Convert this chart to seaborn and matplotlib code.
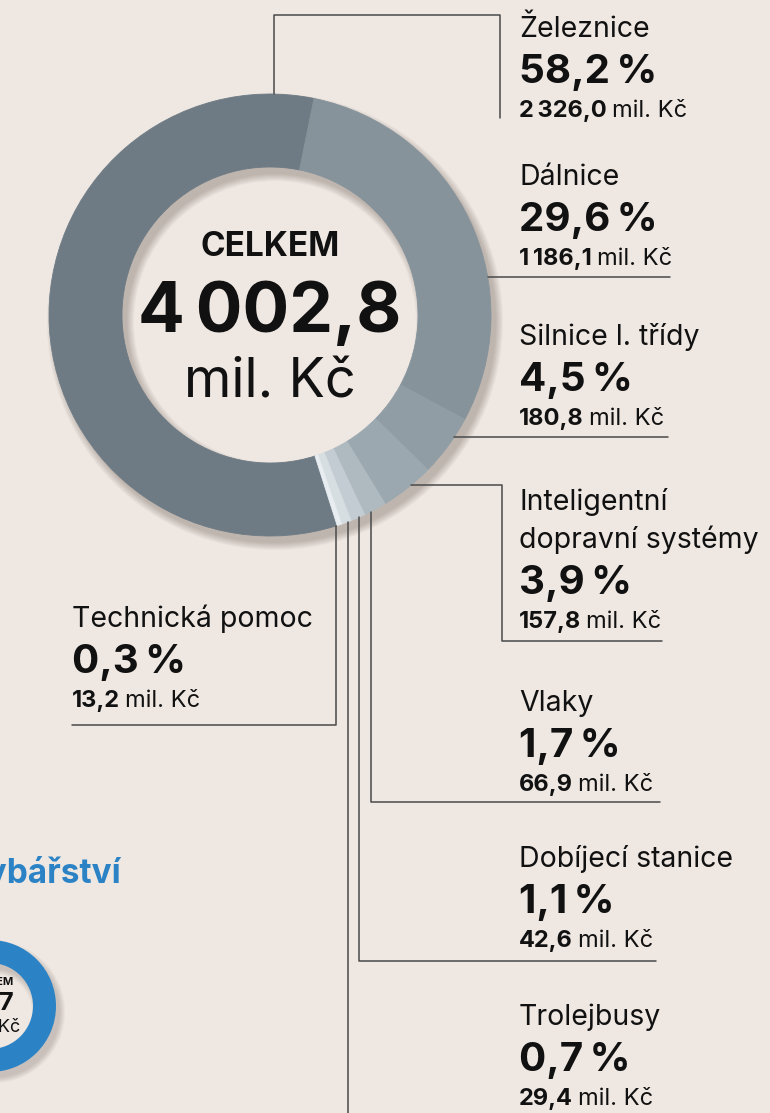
import numpy as np
import matplotlib
matplotlib.use("Agg")
import matplotlib.pyplot as plt
import seaborn as sns
from matplotlib.patches import Wedge

# data
kategorie = ["Železnice", "Dálnice", "Silnice l. třídy", "Inteligentní\ndopravní systémy",
             "Vlaky", "Dobíjecí stanice", "Trolejbusy", "Technická pomoc"]
podil = [58.2, 29.6, 4.5, 3.9, 1.7, 1.1, 0.7, 0.3]
castka = [2326.0, 1186.1, 180.8, 157.8, 66.9, 42.6, 29.4, 13.2]
celkem = 4002.8
barvy = ["#6e7b84", "#86939b", "#909da4", "#9ba8af", "#aeb9c0", "#c3ccd2", "#d6dee2", "#e7edf0"]

# druhy (oriznuty) graf vlevo dole
druhy_nazev = "Rybářství"
druhy_hodnoty = [1.0]
modra = "#2b83c6"

sns.set_theme(style="white")
plt.rcParams["font.family"] = ["Inter", "DejaVu Sans"]

POZADI = "#eee7e2"
CARA = "#4a4a4a"
W, H = 770, 1113
cx, cy, R, tl = 270, 315, 221, 73


def cz(v):
    s = f"{v:,.1f}".replace(",", "\u2009").replace(".", ",")
    return s


fig = plt.figure(figsize=(W / 100, H / 100), dpi=100, facecolor=POZADI)
ax = fig.add_axes([0, 0, 1, 1])
ax.set_facecolor(POZADI)

# stin pod prstencem
for k in range(8):
    ax.add_patch(Wedge((cx + 5, cy + 7), R + k, 0, 360, width=tl + 2 * k,
                       facecolor="#4f3f35", edgecolor="none", alpha=0.04, zorder=1))

wedges, _ = ax.pie(castka, colors=barvy, radius=R, center=(cx, cy),
                   counterclock=True, startangle=72.3,
                   wedgeprops=dict(width=tl, linewidth=0.6))
for w, c in zip(wedges, barvy):
    w.set_edgecolor(c)
    w.set_zorder(2)

ax.set_xlim(0, W)
ax.set_ylim(H, 0)
ax.set_aspect("equal")
ax.axis("off")

# stred
ax.text(cx, 256, "CELKEM", ha="center", va="baseline", fontsize=24, fontweight="bold", color="#111")
ax.text(cx, 332, cz(celkem), ha="center", va="baseline", fontsize=50, fontweight="bold", color="#111")
ax.text(cx, 397, "mil. Kč", ha="center", va="baseline", fontsize=39, color="#111")


def okraj_x(y):
    return cx + np.sqrt(R ** 2 - (y - cy) ** 2)


def okraj_y(x, dole=True):
    d = np.sqrt(R ** 2 - (x - cx) ** 2)
    return cy + d if dole else cy - d


# popisky: x, baseline prvniho radku nazvu
popis_x = [519, 519, 519, 519, 519, 519, 519, 72]
popis_y = [37, 185, 345, 510, 711, 867, 1025, 627]

for nazev, p, v, x, y in zip(kategorie, podil, castka, popis_x, popis_y):
    radky = nazev.split("\n")
    for i, r in enumerate(radky):
        ax.text(x, y + 38 * i, r, ha="left", va="baseline", fontsize=20.5, color="#111")
    yb = y + 38 * (len(radky) - 1)
    ax.text(x, yb + 46, f"{p:.1f}\u2009%".replace(".", ","), ha="left", va="baseline",
            fontsize=29, fontweight="bold", color="#111")
    t = ax.text(x, yb + 80, cz(v), ha="left", va="baseline", fontsize=17,
                fontweight="bold", color="#111")
    ax.annotate("mil. Kč", xy=(1, yb + 80), xycoords=(t, "data"), xytext=(3.5, 0),
                textcoords="offset points", ha="left", va="baseline", fontsize=17, color="#111")

# vodici cary
lw = 1.1
ax.plot([274, 274, 500, 500], [okraj_y(274, False), 14.7, 14.7, 118], color=CARA, lw=lw)
ax.plot([okraj_x(277), 670], [277, 277], color=CARA, lw=lw)
ax.plot([okraj_x(437), 668], [437, 437], color=CARA, lw=lw)
ax.plot([okraj_x(485), 502, 502, 662], [485, 485, 641, 641], color=CARA, lw=lw)
ax.plot([371, 371, 660], [okraj_y(371), 802, 802], color=CARA, lw=lw)
ax.plot([359, 359, 656], [okraj_y(359), 961, 961], color=CARA, lw=lw)
ax.plot([348, 348], [okraj_y(348), H], color=CARA, lw=lw)
ax.plot([336, 336, 72], [okraj_y(336), 725, 725], color=CARA, lw=lw)

# oriznuty sousedni graf
ax.text(122, 883, druhy_nazev.lower(), ha="right", va="baseline", fontsize=24,
        fontweight="bold", color=modra)
bx, by, bR = -10, 1006, 66
for k in range(6):
    ax.add_patch(Wedge((bx + 4, by + 6), bR + k, 0, 360, width=bR - 43 + 2 * k,
                       facecolor="#4f3f35", edgecolor="none", alpha=0.04, zorder=1))
bw, _ = ax.pie(druhy_hodnoty, colors=[modra], radius=bR, center=(bx, by),
               wedgeprops=dict(width=bR - 43, linewidth=0))
for w in bw:
    w.set_zorder(2)
ax.set_xlim(0, W)
ax.set_ylim(H, 0)
ax.text(bx + 1, 985, "CELKEM", ha="center", va="baseline", fontsize=8, fontweight="bold", color="#111")
ax.text(bx + 5, 1010, "0,7", ha="center", va="baseline", fontsize=18, fontweight="bold", color="#111")
ax.text(bx + 2, 1032, "mil. Kč", ha="center", va="baseline", fontsize=13, color="#111")

fig.savefig("out.png", dpi=100, facecolor=POZADI)
